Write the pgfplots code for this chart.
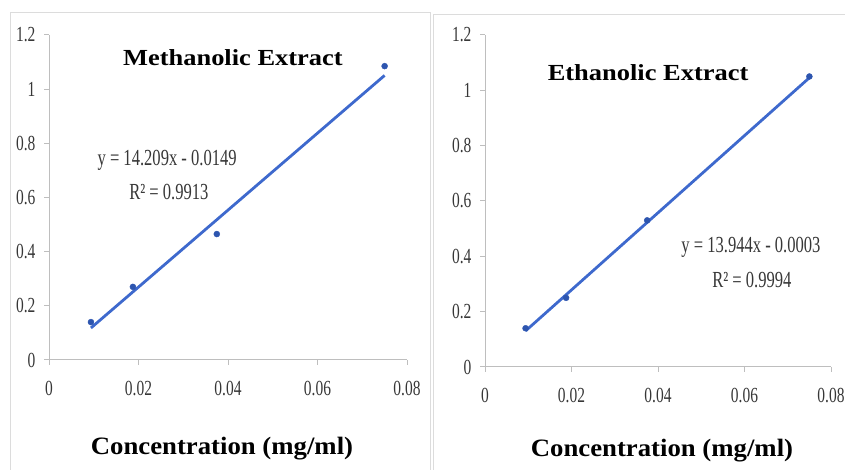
\documentclass[border=0pt]{standalone}
\usepackage{pgfplots}
\pgfplotsset{compat=1.18}
\usepackage{fontspec}
\setmainfont{Liberation Serif}
\newfontfamily\tickfont{Liberation Serif}[FakeStretch=0.72]
\newfontfamily\eqfont{Liberation Serif}[FakeStretch=0.72]
\newfontfamily\titlefont{Liberation Serif}[FakeStretch=1.15]
\newfontfamily\labfont{Liberation Serif}[FakeStretch=1.07]
\definecolor{trend}{RGB}{62,105,205}
\definecolor{pts}{RGB}{45,85,175}
\definecolor{axgray}{RGB}{190,190,190}
\definecolor{boxgray}{RGB}{220,220,220}
\definecolor{ticktext}{RGB}{55,55,55}
\pgfplotsset{
  panel/.style={
    scale only axis,
    xmin=0, xmax=0.08, ymin=0, ymax=1.2,
    scaled x ticks=false, scaled y ticks=false,
    axis x line*=bottom, axis y line*=left,
    axis line style={axgray, line width=1pt, -},
    xtick={0,0.02,0.04,0.06,0.08},
    xticklabels={0,0.02,0.04,0.06,0.08},
    ytick={0,0.2,0.4,0.6,0.8,1,1.2},
    yticklabels={0,0.2,0.4,0.6,0.8,1,1.2},
    tick style={axgray, line width=1pt},
    tick align=outside,
    major tick length=5pt,
    x tick label style={font=\tickfont\fontsize{21.5}{25}\selectfont, text=ticktext, yshift=-13pt},
    y tick label style={font=\tickfont\fontsize{21.5}{25}\selectfont, text=ticktext, xshift=-5pt},
    clip=false,
  }
}
\begin{document}
\begin{tikzpicture}[x=1pt,y=1pt]
\path[use as bounding box] (0,0) rectangle (845,470);
% panel borders
\draw[boxgray, line width=1pt] (10,0) -- (10,457) -- (430,457) -- (430,0);
\draw[boxgray, line width=1pt] (433,0) -- (433,455) -- (845,455);

\begin{axis}[panel, at={(49pt,110pt)}, anchor=south west, width=358pt, height=325pt]
\addplot[trend, line width=2.8pt] coordinates {(0.009375,0.1183) (0.075,1.0508)};
\addplot[only marks, mark=*, mark size=3pt, pts] coordinates {
 (0.009375,0.14) (0.01875,0.27) (0.0375,0.465) (0.075,1.085)};
\node[font=\titlefont\bfseries\fontsize{23}{27}\selectfont] at (axis cs:0.0411,1.115) {Methanolic Extract};
\node[font=\eqfont\fontsize{23}{27}\selectfont, text=ticktext] at (axis cs:0.0264,0.738) {y = 14.209x - 0.0149};
\node[font=\eqfont\fontsize{23}{27}\selectfont, text=ticktext] at (axis cs:0.0268,0.622) {R² = 0.9913};
\end{axis}

\begin{axis}[panel, at={(485pt,103pt)}, anchor=south west, width=346pt, height=332pt]
\addplot[trend, line width=2.8pt] coordinates {(0.009375,0.1304) (0.075,1.0455)};
\addplot[only marks, mark=*, mark size=3pt, pts] coordinates {
 (0.009375,0.14) (0.01875,0.25) (0.0375,0.53) (0.075,1.05)};
\node[font=\titlefont\bfseries\fontsize{23}{27}\selectfont] at (axis cs:0.0377,1.0625) {Ethanolic Extract};
\node[font=\eqfont\fontsize{23}{27}\selectfont, text=ticktext] at (axis cs:0.0615,0.434) {y = 13.944x - 0.0003};
\node[font=\eqfont\fontsize{23}{27}\selectfont, text=ticktext] at (axis cs:0.0617,0.316) {R² = 0.9994};
\end{axis}

\node[font=\labfont\bfseries\fontsize{25}{30}\selectfont] at (222,21) {Concentration (mg/ml)};
\node[font=\labfont\bfseries\fontsize{25}{30}\selectfont] at (662,19) {Concentration (mg/ml)};
\end{tikzpicture}
\end{document}
